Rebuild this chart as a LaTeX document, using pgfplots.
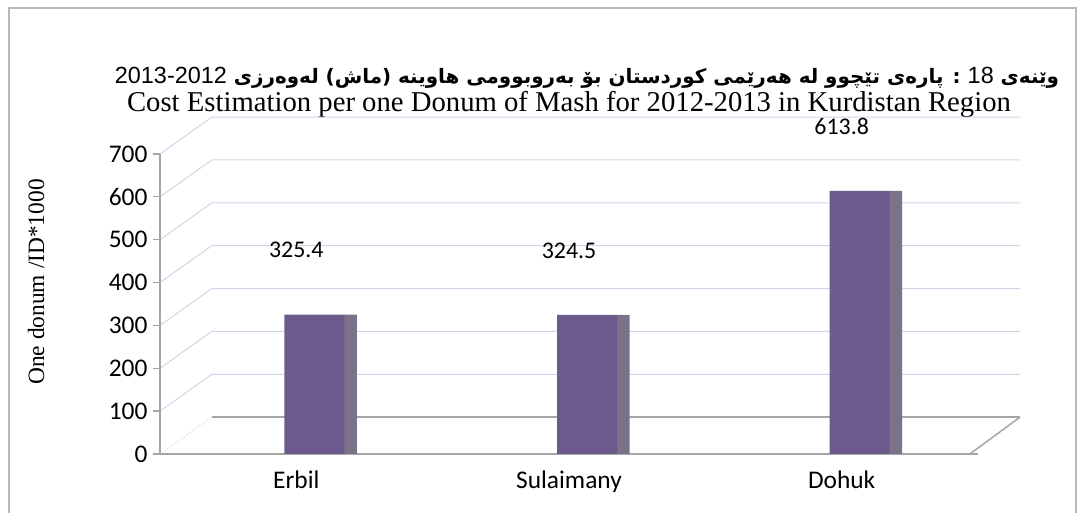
\documentclass[border=0pt]{standalone}
\usepackage{pgfplots}
\pgfplotsset{compat=1.18}
\usepackage{fontspec}
\setmainfont{Carlito}
\newfontfamily\timesf{Liberation Serif}
\newfontfamily\arialf{Liberation Sans}
\newfontfamily\arabicfont[Script=Arabic]{DejaVu Sans}
\TeXXeTstate=1
\definecolor{barfront}{HTML}{6C5A8D}
\definecolor{barside}{HTML}{7B7289}
\definecolor{gridc}{HTML}{D6D2E8}
\definecolor{floorc}{HTML}{A6A6A6}
\begin{document}
\begin{tikzpicture}[x=1bp,y=1bp]
\useasboundingbox (0,0) rectangle (1083,513);
\draw[color=floorc!80, line width=1.3bp] (9,-2) -- (9,505) -- (1076,505) -- (1076,-2);
\node[font=\fontsize{20}{24}\selectfont] at (587,435)
 {\arabicfont\bfseries\beginR وێنەی {\arialf\mdseries\fontsize{23.5}{24}\selectfont\beginL 18\endL} : پارەی تێچوو لە هەرێمی کوردستان بۆ بەروبوومی  هاوینە (ماش) لەوەرزی {\arialf\mdseries\fontsize{23.5}{24}\selectfont\beginL 2013-2012\endL}\endR};
\node[font=\timesf\fontsize{28.8}{32}\selectfont] at (569,408)
 {Cost Estimation per one Donum of Mash for 2012-2013 in Kurdistan Region};
\node[font=\timesf\fontsize{23.5}{26}\selectfont, rotate=90] at (36,231) {One donum /ID*1000};
\begin{axis}[
  at={(160bp,59bp)}, anchor=south west,
  scale only axis, width=860bp, height=338.6bp,
  xmin=-0.5, xmax=2.654, ymin=0, ymax=790,
  axis line style={draw=none},
  clip=false,
  ytick={0,100,...,700},
  xtick={0,1,2},
  xticklabels={Erbil,Sulaimany,Dohuk},
  major x tick style={draw=none},
  extra x ticks={-0.5,0.5,1.5,2.5},
  extra x tick labels={},
  extra x tick style={major tick length=9bp, tick style={draw=floorc, line width=1.3bp}},
  tick align=outside,
  tick pos=left,
  major tick length=7bp,
  ytick style={draw=floorc, line width=1.3bp},
  /pgf/number format/assume math mode=true,
  ticklabel style={font=\fontsize{25.5}{28}\selectfont},
  xticklabel style={yshift=-6bp},
  yticklabel style={xshift=-2bp},
  nodes near coords,
  every node near coord/.append style={font=\fontsize{24}{26}\selectfont, yshift=53bp, /pgf/number format/.cd, fixed, precision=1, fixed zerofill},
]
% back-wall grid lines (3-D look)
\foreach \v in {100,200,...,700} {
  \edef\tmp{\noexpand\draw[gridc, line width=1bp] (axis cs:-0.5,\v) -- (axis cs:-0.31,\v+86) -- (axis cs:2.654,\v+86);}
  \tmp
}
% floor
\draw[gridc, dotted, line width=1bp] (axis cs:-0.5,0) -- (axis cs:-0.31,86);
\draw[floorc, line width=2.2bp] (axis cs:-0.31,86) -- (axis cs:2.654,86);
\draw[floorc, line width=1.5bp] (axis cs:2.47,0) -- (axis cs:2.654,86);
\draw[floorc, line width=1.5bp] (axis cs:-0.5,0) -- (axis cs:2.5,0);
\draw[floorc, line width=1.3bp] (axis cs:-0.5,0) -- (axis cs:-0.5,700);
% bars: side face then front face
\addplot[ybar, bar width=13bp, bar shift=54bp, fill=barside, draw=none, nodes near coords={}, forget plot]
  coordinates {(0,325.4) (1,324.5) (2,613.8)};
\addplot[ybar, bar width=60bp, bar shift=18bp, fill=barfront, draw=none]
  coordinates {(0,325.4) (1,324.5) (2,613.8)};
\end{axis}
\end{tikzpicture}
\end{document}
